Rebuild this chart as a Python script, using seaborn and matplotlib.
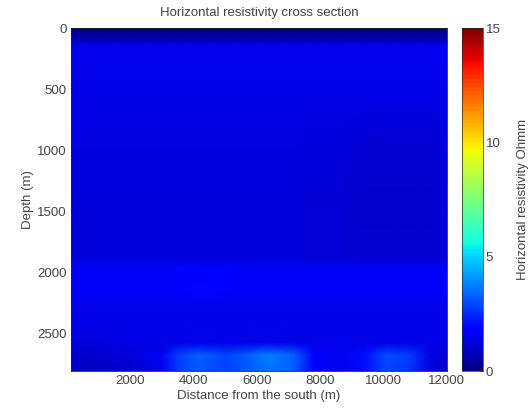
import numpy as np
import matplotlib
matplotlib.use("Agg")
import matplotlib.pyplot as plt
import seaborn as sns

# distance from the south (m) and depth (m) of the model nodes
distance = [140, 1000, 2000, 3000, 3600, 4200, 5000, 5600, 6400, 7200, 7800, 8600, 9400, 10100, 10800, 11500, 12000]
depth = [0, 80, 140, 500, 1000, 1500, 1880, 1960, 2060, 2160, 2260, 2380, 2580, 2680, 2810]

# horizontal resistivity (Ohmm), one row per depth
res_0 = [0.2] * 17
res_80 = [0.5] * 17
res_140 = [1.45] * 17
res_500 = [1.4, 1.4, 1.4, 1.4, 1.4, 1.4, 1.4, 1.4, 1.4, 1.4, 1.4, 1.35, 1.35, 1.35, 1.35, 1.35, 1.35]
res_1000 = [1.25, 1.25, 1.25, 1.25, 1.25, 1.25, 1.25, 1.25, 1.25, 1.25, 1.2, 1.2, 1.1, 1.1, 1.1, 1.1, 1.2]
res_1500 = [1.2, 1.2, 1.2, 1.2, 1.2, 1.2, 1.2, 1.2, 1.2, 1.2, 1.15, 1.15, 1.05, 1.05, 1.05, 1.05, 1.15]
res_1880 = [1.2, 1.2, 1.2, 1.2, 1.2, 1.2, 1.2, 1.2, 1.2, 1.2, 1.15, 1.15, 1.1, 1.1, 1.1, 1.1, 1.15]
res_1960 = [1.55, 1.55, 1.55, 1.55, 1.9, 1.9, 1.85, 1.55, 1.55, 1.55, 1.55, 1.55, 1.55, 1.55, 1.55, 1.55, 1.55]
res_2060 = [1.55, 1.55, 1.55, 1.55, 1.65, 1.8, 1.65, 1.55, 1.55, 1.55, 1.55, 1.55, 1.55, 1.55, 1.55, 1.55, 1.55]
res_2160 = [1.55, 1.55, 1.55, 1.55, 1.75, 1.95, 1.9, 1.55, 1.55, 1.55, 1.55, 1.55, 1.55, 1.55, 1.55, 1.55, 1.55]
res_2260 = [1.45] * 17
res_2380 = [1.35] * 17
res_2580 = [1.25, 1.25, 1.3, 1.35, 1.4, 1.45, 1.4, 1.4, 1.45, 1.4, 1.35, 1.35, 1.35, 1.4, 1.35, 1.35, 1.3]
res_2680 = [1.0, 1.0, 1.2, 1.5, 2.9, 3.3, 2.9, 3.2, 3.8, 3.3, 1.9, 1.5, 2.1, 3.0, 2.8, 1.3, 1.0]
res_2810 = [0.9, 0.9, 1.1, 1.4, 2.8, 3.2, 2.8, 3.1, 3.6, 3.2, 1.8, 1.4, 2.0, 2.9, 2.6, 1.2, 0.9]

rows = [res_0, res_80, res_140, res_500, res_1000, res_1500, res_1880, res_1960,
        res_2060, res_2160, res_2260, res_2380, res_2580, res_2680, res_2810]
values = np.array(rows)

sns.set_style("white")
plt.rcParams['font.family'] = ['Liberation Sans', 'DejaVu Sans']
text_color = '#444444'
fs = 9.5

fig = plt.figure(figsize=(5.32, 4.12), dpi=100)
ax = fig.add_axes([0.1335, 0.0995, 0.7065, 0.8325])
cax = fig.add_axes([0.868, 0.0995, 0.04, 0.8325])

X, Y = np.meshgrid(distance, depth)
mesh = ax.pcolormesh(X, Y, values, cmap='jet', vmin=0, vmax=15, shading='gouraud')

ax.set_xlim(distance[0], distance[-1])
ax.set_ylim(depth[-1], depth[0])
ax.set_xticks([2000, 4000, 6000, 8000, 10000, 12000])
ax.set_yticks([0, 500, 1000, 1500, 2000, 2500])
ax.tick_params(direction='in', length=2, width=0.5, labelsize=fs, colors=text_color,
               labelcolor=text_color, pad=3)
for side in ax.spines.values():
    side.set_linewidth(0.6)
    side.set_color('#222222')
ax.set_xlabel('Distance from the south (m)', fontsize=fs, color=text_color, labelpad=2)
ax.set_ylabel('Depth (m)', fontsize=fs, color=text_color, labelpad=2)
ax.set_title('Horizontal resistivity cross section', fontsize=fs, color=text_color, pad=9)

cbar = fig.colorbar(mesh, cax=cax, ticks=[0, 5, 10, 15])
cbar.outline.set_linewidth(0.5)
cbar.ax.tick_params(direction='in', length=2, width=0.5, labelsize=fs,
                    colors=text_color, labelcolor=text_color, pad=2)
cbar.set_label('Horizontal resistivity Ohmm', fontsize=fs, color=text_color, labelpad=12)

fig.savefig('out.png', dpi=100, facecolor='white')
